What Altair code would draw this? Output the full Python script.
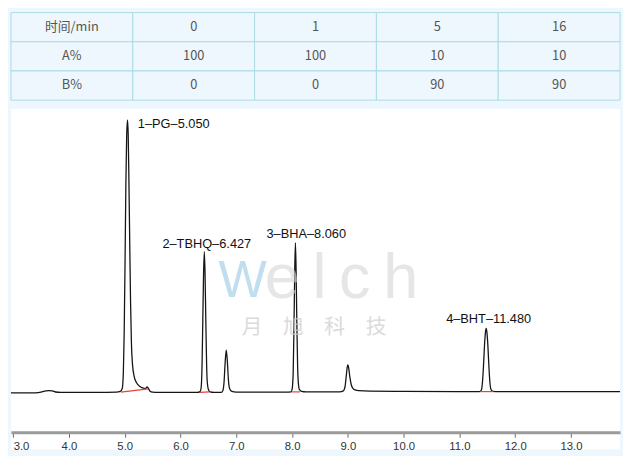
import altair as alt
import pandas as pd

BG = "#eef7fd"

# ---- gradient table ----
header = ["时间/min", "0", "1", "5", "16"]
row_a = ["A%", "100", "100", "10", "10"]
row_b = ["B%", "0", "0", "90", "90"]

# ---- chromatogram trace (minutes, signal above baseline) ----
times = [2.96, 3.40, 3.50, 3.56, 3.63, 3.70, 3.76, 3.85, 4.50, 4.85, 4.92, 4.955, 4.975, 4.99,
         5.005, 5.02, 5.035, 5.05, 5.062, 5.075, 5.09, 5.105, 5.12, 5.14, 5.17, 5.21, 5.26, 5.32,
         5.37, 5.40, 5.42, 5.45, 5.50, 5.60, 6.30, 6.35, 6.37, 6.385, 6.40, 6.413, 6.427, 6.44,
         6.453, 6.468, 6.48, 6.50, 6.53, 6.60, 6.73, 6.76, 6.78, 6.80, 6.82, 6.84, 6.86, 6.88,
         6.92, 7.00, 7.90, 7.98, 8.00, 8.02, 8.035, 8.048, 8.06, 8.072, 8.085, 8.10, 8.115, 8.13,
         8.17, 8.25, 8.85, 8.92, 8.95, 8.97, 8.99, 9.00, 9.015, 9.035, 9.06, 9.09, 9.13, 9.20,
         9.40, 10.00, 11.00, 11.36, 11.39, 11.41, 11.43, 11.45, 11.465, 11.48, 11.495, 11.51,
         11.53, 11.55, 11.57, 11.60, 11.70, 13.88]
signal = [-0.5, -0.5, 0.2, 1.2, 1.8, 1.6, 0.4, 0.0, 0.0, 0.2, 1.0, 4, 20, 60,
          130, 210, 262, 277, 262, 215, 150, 90, 50, 28, 16, 10, 6.5, 4.5,
          3.8, 5.5, 4.5, 1.5, 0.3, 0.0, 0.0, 0.8, 5, 25, 75, 120, 143, 120,
          75, 28, 10, 3, 0.5, 0.0, 0.0, 2, 10, 30, 43, 31, 12, 4,
          1, 0.3, 0.3, 0.6, 3, 20, 70, 125, 152, 125, 72, 25, 8, 3,
          1, 0.5, 0.5, 1.5, 6, 16, 26, 28, 25, 16, 8, 4, 2.5, 1.8,
          1.3, 1.0, 0.8, 0.8, 2, 8, 25, 48, 60, 65, 60, 48,
          25, 8, 2.5, 1.0, 0.8, 0.8]

# integration baselines (red)
base_seg = [1, 1, 2, 2, 3, 3, 4, 4]
base_t = [4.93, 5.42, 6.35, 6.52, 7.99, 8.14, 11.37, 11.61]
base_v = [0.3, 3.5, 0.0, 0.5, 0.5, 0.5, 0.8, 0.8]

# peak labels
peak_names = ["1–PG–5.050", "2–TBHQ–6.427", "3–BHA–8.060", "4–BHT–11.480"]
peak_times = [5.05, 6.427, 8.06, 11.48]
peak_heights = [277, 143, 152, 65]

# ---------------- table ----------------
cells = []
for r, row in enumerate([header, row_a, row_b]):
    for c, v in enumerate(row):
        cells.append({"row": r, "col": c, "text": v})
tdf = pd.DataFrame(cells)

tx = alt.X("col:O", axis=None, scale=alt.Scale(paddingInner=0, paddingOuter=0))
ty = alt.Y("row:O", axis=None, scale=alt.Scale(paddingInner=0, paddingOuter=0))
grid = alt.Chart(tdf).mark_rect(fill=BG, stroke="#a9dbe4", strokeWidth=1).encode(x=tx, y=ty)
ttext = alt.Chart(tdf).mark_text(font="Noto Sans CJK SC", fontSize=13, color="#555555").encode(
    x=tx, y=ty, text="text:N")
table = alt.layer(grid, ttext).properties(width=619, height=89)

# ---------------- chromatogram ----------------
xsc = alt.Scale(domain=[2.96, 13.88], nice=False, zero=False)
ysc = alt.Scale(domain=[-58, 288], nice=False, zero=False)

tick_vals = [3 + 0.25 * i for i in range(44)]
xaxis = alt.Axis(
    values=tick_vals,
    labelExpr="datum.value % 1 == 0 ? format(datum.value, '.1f') : ''",
    title=None, grid=False, offset=-17.5,
    domainColor="#9a9a9a", domainWidth=3,
    tickColor="#666666", tickSize=5, tickWidth=1,
    labelFont="Liberation Sans", labelFontSize=11.5, labelColor="#333333",
    labelPadding=4, labelOverlap=False, labelFlush=5,
)

sdf = pd.DataFrame({"t": times, "v": signal})
trace = alt.Chart(sdf).mark_line(color="#151515", strokeWidth=1.3, interpolate="monotone").encode(
    x=alt.X("t:Q", scale=xsc, axis=xaxis),
    y=alt.Y("v:Q", scale=ysc, axis=None),
)

bdf = pd.DataFrame({"seg": base_seg, "t": base_t, "v": base_v})
baselines = alt.Chart(bdf).mark_line(color="#e8403a", strokeWidth=1.2).encode(
    x=alt.X("t:Q", scale=xsc), y=alt.Y("v:Q", scale=ysc), detail="seg:N")

pdf = pd.DataFrame({"name": peak_names, "t": peak_times, "h": peak_heights})
label_style = [("left", 10.5, 4), ("center", 2.5, -8), ("center", 11, -8.5), ("center", 2.5, -10)]
labels = []
for i, (al, dx, dy) in enumerate(label_style):
    labels.append(
        alt.Chart(pdf.iloc[[i]]).mark_text(
            align=al, baseline="middle", dx=dx, dy=dy, font="Liberation Sans",
            fontSize=13, color="#111111").encode(
            x=alt.X("t:Q", scale=xsc), y=alt.Y("h:Q", scale=ysc), text="name:N"))

one = pd.DataFrame({"k": [0]})
wm_w = alt.Chart(one).mark_text(text="W", font="Liberation Sans", fontSize=52, color="#a8d1ea",
                                align="left", baseline="alphabetic", opacity=0.7).encode(
    x=alt.value(211), y=alt.value(191))
wm_elch = alt.Chart(one).mark_text(text="e\u2009l\u2009c\u2009h", font="Liberation Sans", fontSize=64,
                                   color="#d6d6d6", align="left", baseline="alphabetic",
                                   opacity=0.6).encode(
    x=alt.value(258), y=alt.value(192))
wm_cn = alt.Chart(one).mark_text(text="月\u3000旭\u3000科\u3000技", font="Noto Sans CJK SC", fontSize=21,
                                 color="#cccccc", align="center", baseline="middle",
                                 opacity=0.7).encode(
    x=alt.value(308), y=alt.value(223))

chrom = alt.layer(trace, baselines, *labels, wm_w, wm_elch, wm_cn).properties(width=619, height=346)

chart = alt.vconcat(table, chrom, spacing=8).properties(
    background=BG, padding=0
).configure_view(stroke=None, fill="white")

chart.save("out.html", embed_options={"renderer": "svg", "actions": False})
